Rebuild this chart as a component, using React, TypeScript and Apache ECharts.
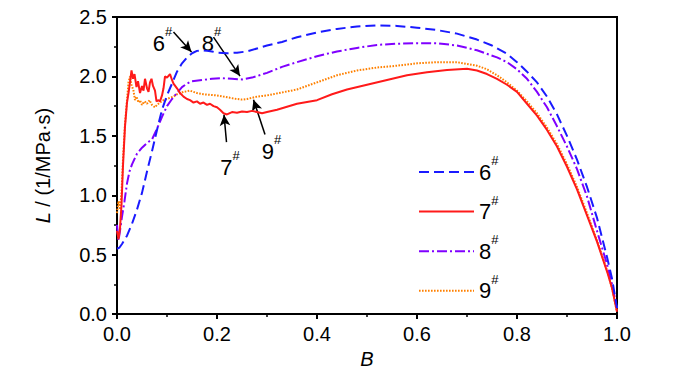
import React, { useEffect, useRef } from "react";
import * as echarts from "echarts";

const FONT = "'Liberation Sans Narrow', 'Arial Narrow', 'Liberation Sans', Arial, sans-serif";

const xTicks = { min: 0, max: 1, interval: 0.2 };
const yTicks = { min: 0, max: 2.5, interval: 0.5 };

const seriesNames = ["6", "7", "8", "9"];
const seriesColors = ["#1a1aff", "#ff1a1a", "#8000ff", "#ff8000"];

const curve6 = [
  [0, 0.55], [0.005, 0.56], [0.01, 0.59], [0.02, 0.66], [0.03, 0.76], [0.04, 0.88], [0.05, 1.02],
  [0.06, 1.2], [0.07, 1.37], [0.08, 1.55], [0.09, 1.72], [0.1, 1.84], [0.11, 1.94], [0.12, 2.04],
  [0.13, 2.11], [0.14, 2.16], [0.15, 2.195], [0.16, 2.215], [0.17, 2.22], [0.18, 2.215], [0.19, 2.21],
  [0.2, 2.2], [0.22, 2.195], [0.24, 2.2], [0.26, 2.21], [0.28, 2.235], [0.3, 2.26], [0.33, 2.29],
  [0.36, 2.33], [0.4, 2.37], [0.44, 2.4], [0.48, 2.42], [0.52, 2.43], [0.56, 2.425], [0.6, 2.41],
  [0.64, 2.39], [0.68, 2.36], [0.72, 2.31], [0.75, 2.26], [0.78, 2.19], [0.8, 2.12], [0.82, 2.04],
  [0.84, 1.95], [0.86, 1.83], [0.88, 1.68], [0.9, 1.5], [0.92, 1.3], [0.94, 1.07], [0.96, 0.81],
  [0.98, 0.48], [0.99, 0.3], [1.0, 0.05],
];

const curve7 = [
  [0, 0.7], [0.003, 0.63], [0.006, 0.72], [0.009, 0.92], [0.012, 1.25], [0.016, 1.58], [0.02, 1.78],
  [0.023, 1.86], [0.026, 1.95], [0.029, 2.05], [0.032, 1.98], [0.035, 2.02], [0.039, 1.91], [0.042, 1.96],
  [0.046, 1.86], [0.05, 1.92], [0.053, 1.88], [0.056, 1.98], [0.06, 1.9], [0.063, 1.87], [0.066, 1.95],
  [0.069, 1.98], [0.072, 1.92], [0.076, 1.88], [0.079, 1.79], [0.083, 1.8], [0.086, 1.79], [0.09, 1.84],
  [0.093, 1.9], [0.096, 2.0], [0.1, 1.99], [0.106, 2.02], [0.11, 1.97], [0.113, 1.94], [0.12, 1.9],
  [0.126, 1.86], [0.133, 1.83], [0.14, 1.81], [0.146, 1.8], [0.153, 1.78], [0.16, 1.79], [0.166, 1.77],
  [0.173, 1.78], [0.18, 1.76], [0.186, 1.77], [0.193, 1.75], [0.2, 1.74], [0.206, 1.72], [0.213, 1.69],
  [0.22, 1.68], [0.23, 1.7], [0.24, 1.695], [0.25, 1.705], [0.26, 1.7], [0.27, 1.71], [0.28, 1.7],
  [0.29, 1.69], [0.3, 1.7], [0.32, 1.72], [0.34, 1.745], [0.36, 1.77], [0.38, 1.785], [0.4, 1.8],
  [0.43, 1.85], [0.46, 1.89], [0.5, 1.93], [0.54, 1.97], [0.58, 2.01], [0.62, 2.035], [0.66, 2.055],
  [0.7, 2.065], [0.72, 2.05], [0.74, 2.02], [0.76, 1.98], [0.78, 1.93], [0.8, 1.87], [0.82, 1.77],
  [0.84, 1.67], [0.86, 1.55], [0.88, 1.41], [0.9, 1.24], [0.92, 1.05], [0.94, 0.83], [0.96, 0.61],
  [0.98, 0.36], [0.99, 0.22], [1.0, 0.02],
];

const curve8 = [
  [0, 0.75], [0.003, 0.62], [0.006, 0.7], [0.01, 0.82], [0.015, 0.95], [0.02, 1.1], [0.025, 1.2],
  [0.03, 1.26], [0.04, 1.35], [0.05, 1.4], [0.06, 1.44], [0.07, 1.47], [0.08, 1.56], [0.09, 1.66],
  [0.1, 1.75], [0.11, 1.81], [0.12, 1.86], [0.13, 1.91], [0.14, 1.94], [0.15, 1.96], [0.17, 1.97],
  [0.19, 1.98], [0.21, 1.985], [0.23, 1.98], [0.25, 1.975], [0.27, 1.99], [0.3, 2.03], [0.33, 2.08],
  [0.36, 2.12], [0.4, 2.17], [0.44, 2.21], [0.48, 2.24], [0.52, 2.265], [0.56, 2.275], [0.6, 2.28],
  [0.64, 2.28], [0.68, 2.26], [0.72, 2.22], [0.76, 2.16], [0.78, 2.12], [0.8, 2.06], [0.82, 1.98],
  [0.84, 1.87], [0.86, 1.74], [0.88, 1.58], [0.9, 1.41], [0.92, 1.22], [0.94, 0.99], [0.96, 0.7],
  [0.98, 0.42], [0.99, 0.25], [1.0, 0.05],
];

const curve9 = [
  [0, 0.85], [0.003, 0.95], [0.006, 0.88], [0.009, 1.02], [0.012, 1.3], [0.016, 1.6], [0.02, 1.8],
  [0.023, 1.95], [0.026, 2.0], [0.029, 1.93], [0.033, 1.88], [0.036, 1.8], [0.039, 1.83], [0.043, 1.78],
  [0.046, 1.8], [0.05, 1.76], [0.055, 1.79], [0.06, 1.77], [0.065, 1.8], [0.07, 1.76], [0.076, 1.74],
  [0.08, 1.76], [0.086, 1.78], [0.093, 1.8], [0.1, 1.81], [0.106, 1.82], [0.113, 1.83], [0.12, 1.85],
  [0.133, 1.87], [0.146, 1.88], [0.16, 1.86], [0.173, 1.85], [0.186, 1.845], [0.2, 1.84], [0.213, 1.83],
  [0.226, 1.82], [0.24, 1.81], [0.25, 1.805], [0.26, 1.81], [0.27, 1.82], [0.28, 1.83], [0.3, 1.84],
  [0.33, 1.865], [0.36, 1.89], [0.4, 1.95], [0.44, 2.01], [0.48, 2.05], [0.52, 2.075], [0.56, 2.09],
  [0.6, 2.11], [0.64, 2.12], [0.68, 2.12], [0.72, 2.09], [0.74, 2.06], [0.76, 2.01], [0.78, 1.95],
  [0.8, 1.88], [0.82, 1.79], [0.84, 1.69], [0.86, 1.57], [0.88, 1.43], [0.9, 1.26], [0.92, 1.07],
  [0.94, 0.85], [0.96, 0.62], [0.98, 0.37], [0.99, 0.22], [1.0, 0.02],
];

// annotation labels: [name, B, L]
const annotationLabels: [string, number, number][] = [
  ["6", 0.091, 2.279],
  ["8", 0.189, 2.279],
  ["7", 0.226, 1.235],
  ["9", 0.309, 1.37],
];

// annotation arrows: [fromB, fromL, toB, toL]
const annotationArrows: [number, number, number, number][] = [
  [0.113, 2.373, 0.149, 2.206],
  [0.193, 2.331, 0.246, 2.003],
  [0.219, 1.447, 0.214, 1.678],
  [0.296, 1.511, 0.273, 1.803],
];

const richStyle = {
  n: { fontSize: 22, lineHeight: 36, fontFamily: FONT, color: "#000" },
  s: { fontSize: 13, lineHeight: 14, verticalAlign: "top", fontFamily: FONT, color: "#000" },
};

export default function App() {
  const ref = useRef<HTMLDivElement>(null);
  useEffect(() => {
    if (!ref.current) return;
    const chart = echarts.init(ref.current, undefined, { renderer: "svg" });
    const curves = [curve6, curve7, curve8, curve9];
    const lineTypes: any[] = [[10, 5], "solid", [10, 3, 2, 3], [1.6, 1.4]];
    const series: any[] = curves.map((c, i) => ({
      name: seriesNames[i],
      type: "line",
      data: c,
      showSymbol: false,
      symbol: "none",
      lineStyle: { color: seriesColors[i], width: 2, type: lineTypes[i] },
      itemStyle: { color: seriesColors[i] },
      z: 3 + (3 - i),
    }));
    series[0].markPoint = {
      silent: true,
      symbol: "circle",
      symbolSize: 1,
      itemStyle: { color: "rgba(0,0,0,0)" },
      label: { show: true, position: "inside", color: "#000", rich: richStyle },
      data: annotationLabels.map(([n, b, l]) => ({
        coord: [b, l],
        label: { formatter: `{n|${n}}{s|#}` },
      })),
    };
    series[0].markLine = {
      silent: true,
      symbol: ["none", "arrow"],
      symbolSize: [8, 11],
      label: { show: false },
      lineStyle: { color: "#000", width: 1.5, type: "solid" },
      data: annotationArrows.map(([b1, l1, b2, l2]) => [
        { coord: [b1, l1] },
        { coord: [b2, l2] },
      ]),
    };
    const axisCommon = {
      type: "value",
      nameLocation: "middle",
      axisLine: { show: true, lineStyle: { color: "#000", width: 2 } },
      axisTick: { show: true, inside: false, length: 5, lineStyle: { color: "#000", width: 2 } },
      minorTick: { show: true, splitNumber: 2, length: 3, lineStyle: { color: "#000", width: 1.5 } },
      splitLine: { show: false },
      minorSplitLine: { show: false },
      axisLabel: {
        color: "#000",
        fontSize: 20,
        fontFamily: FONT,
        formatter: (v: number) => v.toFixed(1),
      },
    };
    chart.setOption({
      animation: false,
      backgroundColor: "#fff",
      textStyle: { fontFamily: FONT },
      grid: {
        left: 117,
        right: 83,
        top: 17,
        bottom: 58,
        show: true,
        borderColor: "#000",
        borderWidth: 2,
      },
      legend: {
        orient: "vertical",
        left: 413,
        top: 149,
        itemWidth: 55,
        itemHeight: 14,
        itemGap: 10.6,
        itemStyle: { opacity: 0, borderWidth: 0 },
        data: seriesNames,
        formatter: (name: string) => `{n|${name}}{s|#}`,
        textStyle: { color: "#000", rich: richStyle },
      },
      xAxis: {
        ...axisCommon,
        min: xTicks.min,
        max: xTicks.max,
        interval: xTicks.interval,
        name: "B",
        nameGap: 30,
        nameTextStyle: { fontSize: 20, fontStyle: "italic", color: "#000", fontFamily: FONT },
        axisLabel: { ...axisCommon.axisLabel, margin: 10 },
      },
      yAxis: {
        ...axisCommon,
        min: yTicks.min,
        max: yTicks.max,
        interval: yTicks.interval,
        name: "{i|L}{t| / (1/MPa·s)}",
        nameGap: 64,
        nameTextStyle: {
          color: "#000",
          rich: {
            i: { fontSize: 20, fontStyle: "italic", fontFamily: FONT, color: "#000" },
            t: { fontSize: 20, fontFamily: FONT, color: "#000" },
          },
        },
        axisLabel: { ...axisCommon.axisLabel, margin: 10 },
      },
      series,
    });
    return () => chart.dispose();
  }, []);
  return (
    <div
      ref={ref}
      style={{ position: "fixed", left: 0, top: 0, width: 700, height: 374, background: "#fff" }}
    />
  );
}
